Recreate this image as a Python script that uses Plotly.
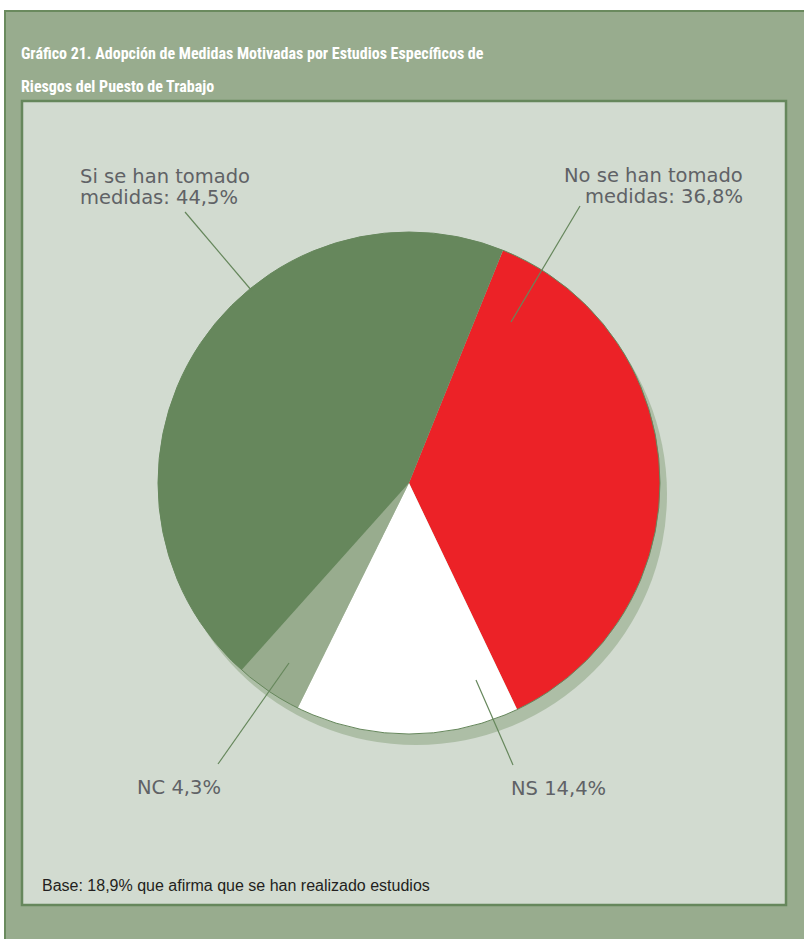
import plotly.graph_objects as go

# data
slice_names = ["No se han tomado medidas", "NS", "NC", "Si se han tomado medidas"]
slice_values = [36.8, 14.4, 4.3, 44.5]
slice_colors = ["#EC2227", "#FFFFFF", "#98AC8E", "#66875C"]

title_lines = [
    "Gráfico 21. Adopción de Medidas Motivadas por Estudios Específicos de",
    "Riesgos del Puesto de Trabajo",
]
footnote = "Base: 18,9% que afirma que se han realizado estudios"

W, H = 804, 939


def fx(x):
    return x / W


def fy(y):
    return 1 - y / H


def pct(v):
    return f"{v:.1f}".replace(".", ",") + "%"


# label text per slice (split in lines)
label_lines = {
    "No se han tomado medidas": ["No se han tomado", "medidas: " + pct(slice_values[0])],
    "NS": ["NS " + pct(slice_values[1])],
    "NC": ["NC " + pct(slice_values[2])],
    "Si se han tomado medidas": ["Si se han tomado", "medidas: " + pct(slice_values[3])],
}

# layout: label anchor (x, first baseline, xanchor) and leader line (x0, y0, x1, y1) in px
label_layout = {
    "No se han tomado medidas": (744, 181, "right", (580, 206, 511, 322)),
    "NS": (607, 794, "right", (513, 765, 476, 680)),
    "NC": (222, 793, "right", (218, 764, 289, 663)),
    "Si se han tomado medidas": (79, 182, "left", (185, 212, 252, 291)),
}

cx, cy, r = 409, 483, 251
shadow_dx, shadow_dy = 7, 11

fig = go.Figure()
fig.add_trace(
    go.Pie(
        labels=slice_names,
        values=slice_values,
        sort=False,
        direction="clockwise",
        rotation=22,
        marker=dict(colors=slice_colors, line=dict(width=0)),
        textinfo="none",
        hoverinfo="label+value",
        showlegend=False,
        domain=dict(x=[fx(cx - r), fx(cx + r)], y=[fy(cy + r), fy(cy - r)]),
    )
)

shapes = [
    # outer frame
    dict(type="rect", xref="paper", yref="paper", x0=fx(5), x1=fx(830), y0=fy(11), y1=fy(960),
         fillcolor="#98AC8E", line=dict(color="#6A8A5E", width=2), layer="below"),
    # inner panel
    dict(type="rect", xref="paper", yref="paper", x0=fx(22), x1=fx(786), y0=fy(101), y1=fy(905),
         fillcolor="#D2DBD0", line=dict(color="#66875C", width=2.5), layer="below"),
    # pie shadow
    dict(type="circle", xref="paper", yref="paper",
         x0=fx(cx - r + shadow_dx), x1=fx(cx + r + shadow_dx),
         y0=fy(cy + r + shadow_dy), y1=fy(cy - r + shadow_dy),
         fillcolor="#ADBEA6", line=dict(width=0), layer="below"),
    # pie rim
    dict(type="circle", xref="paper", yref="paper",
         x0=fx(cx - r), x1=fx(cx + r), y0=fy(cy + r), y1=fy(cy - r),
         line=dict(color="#66875C", width=1), layer="above"),
]

annotations = []
for i, line in enumerate(title_lines):
    annotations.append(dict(
        x=fx(19), y=fy(54 + 32 * i), xref="paper", yref="paper",
        xanchor="left", yanchor="middle", showarrow=False, text=line,
        font=dict(family="Roboto Condensed", size=16, color="#FFFFFF", weight="bold"),
    ))

for name in slice_names:
    x, base, anchor, (x0, y0, x1, y1) = label_layout[name]
    for j, line in enumerate(label_lines[name]):
        annotations.append(dict(
            x=fx(x), y=fy(base - 6 + 21 * j), xref="paper", yref="paper",
            xanchor=anchor, yanchor="middle", showarrow=False, text=line,
            height=20, borderpad=0,
            font=dict(family="DejaVu Sans", size=19.5, color="#606266"),
        ))
    shapes.append(dict(type="line", xref="paper", yref="paper",
                       x0=fx(x0), y0=fy(y0), x1=fx(x1), y1=fy(y1),
                       line=dict(color="#66875C", width=1.2), layer="above"))

annotations.append(dict(
    x=fx(40), y=fy(885), xref="paper", yref="paper",
    xanchor="left", yanchor="middle", showarrow=False, text=footnote,
    font=dict(family="Liberation Sans", size=16, color="#231F20"),
))

fig.update_layout(
    width=W,
    height=H,
    margin=dict(l=0, r=0, t=0, b=0),
    paper_bgcolor="#FFFFFF",
    plot_bgcolor="#FFFFFF",
    shapes=shapes,
    annotations=annotations,
)

# drop the browser's default body margin so the figure fills the window
fig.write_html(
    "out.html",
    config={"displayModeBar": False},
    post_script="document.body.style.margin='0';",
)
